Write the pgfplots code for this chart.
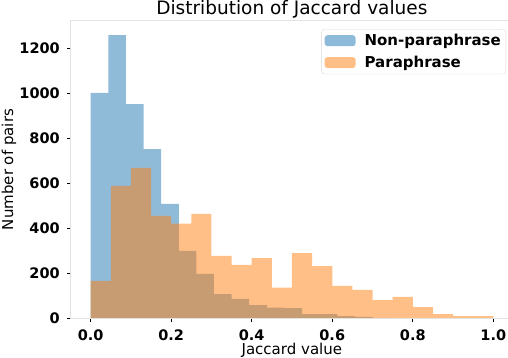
\documentclass[border=0pt]{standalone}
\usepackage{fontspec}
\setmainfont{DejaVu Sans}
\usepackage{pgfplots}
\pgfplotsset{compat=1.18}
\definecolor{mplblue}{HTML}{1F77B4}
\definecolor{mplorange}{HTML}{FF7F0E}
\definecolor{spinegray}{HTML}{E3E3E3}
\definecolor{legendgray}{HTML}{D9D9D9}
\begin{document}
\begin{tikzpicture}
\begin{axis}[
    scale only axis,
    width=443.1pt, height=297.6pt,
    xmin=-0.0507, xmax=1.05,
    ymin=0, ymax=1323,
    axis on top,
    axis line style={spinegray, line width=1.2pt},
    tick style={black, line width=0.8pt},
    major tick length=3.5pt,
    tick align=outside,
    tick pos=left,
    xtick={0,0.2,0.4,0.6,0.8,1.0},
    ytick={0,200,400,600,800,1000,1200},
    scaled ticks=false,
    /pgf/number format/assume math mode=true,
    /pgf/number format/1000 sep={},
    xticklabel style={/pgf/number format/.cd, fixed, fixed zerofill, precision=1,
        /tikz/.cd, yshift=-4pt},
    yticklabel style={xshift=-3.5pt},
    ticklabel style={font=\fontsize{14.5}{17}\selectfont\bfseries},
    title={Distribution of Jaccard values},
    title style={at={(axis description cs:0.5,1.0202)}, anchor=base, yshift=-6pt,
        font=\fontsize{18.5}{22}\selectfont},
    xlabel={Jaccard value},
    xlabel style={at={(axis description cs:0.5,-0.1215)}, anchor=base,
        font=\fontsize{15}{18}\selectfont},
    ylabel={Number of pairs},
    ylabel style={at={(axis description cs:-0.1293,0.5)}, anchor=base,
        font=\fontsize{15}{18}\selectfont},
    legend style={at={(axis description cs:0.9833,0.972)}, anchor=north east,
        draw=legendgray, rounded corners=3pt, fill=white,
        font=\fontsize{15}{18}\selectfont\bfseries,
        inner xsep=3pt, inner ysep=3pt, row sep=5pt,
        /tikz/every odd column/.append style={column sep=7pt}},
    legend cell align=left,
]
% Non-paraphrase: 20 bins of width 0.04375
\addplot[ybar interval, fill=mplblue, fill opacity=0.5, draw=none,
    legend image code/.code={\fill[mplblue, fill opacity=0.5] (0pt,-5.5pt) rectangle (31pt,5.5pt);}]
coordinates {
    (0.00000,1002) (0.04375,1259) (0.08750,952) (0.13125,752) (0.17500,509)
    (0.21875,300) (0.26250,197) (0.30625,108) (0.35000,86) (0.39375,59)
    (0.43750,47) (0.48125,45) (0.52500,19) (0.56875,19) (0.61250,10)
    (0.65625,6) (0.70000,2) (0.74375,1) (0.78750,0) (0.83125,0)
    (0.87500,0)
};
\addlegendentry{Non-paraphrase}
% Paraphrase: 20 bins of width 0.05
\addplot[ybar interval, fill=mplorange, fill opacity=0.5, draw=none,
    legend image code/.code={\fill[mplorange, fill opacity=0.5] (0pt,-5.5pt) rectangle (31pt,5.5pt);}]
coordinates {
    (0.00,166) (0.05,589) (0.10,669) (0.15,455) (0.20,421)
    (0.25,464) (0.30,277) (0.35,237) (0.40,268) (0.45,136)
    (0.50,290) (0.55,232) (0.60,144) (0.65,126) (0.70,81)
    (0.75,95) (0.80,50) (0.85,19) (0.90,10) (0.95,10)
    (1.00,0)
};
\addlegendentry{Paraphrase}
\draw[black, line width=0.8pt] (rel axis cs:0,0) -- (rel axis cs:0,1);
\end{axis}
\pgfresetboundingbox
\useasboundingbox (-70.3pt,-39.7pt) rectangle (437.7pt,318.3pt);
\end{tikzpicture}
\end{document}
